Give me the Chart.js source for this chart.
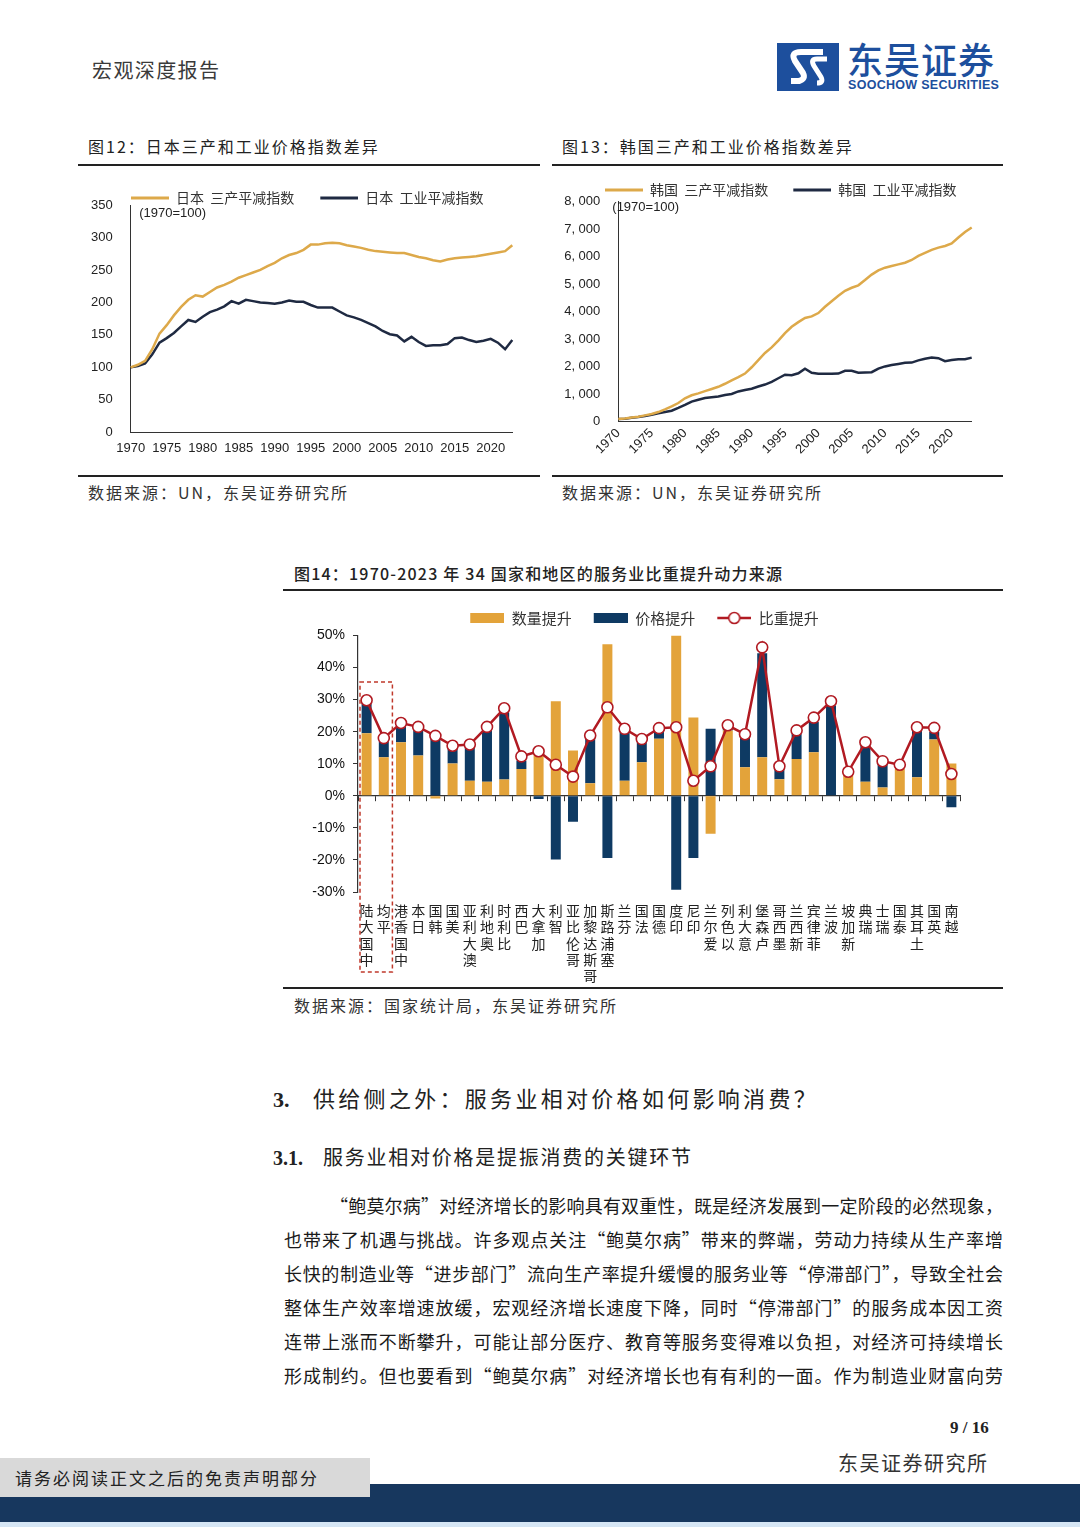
<!DOCTYPE html>
<html><head><meta charset="utf-8">
<script src="https://cdn.jsdelivr.net/npm/chart.js@4.4.1/dist/chart.umd.min.js"></script>
<style>
html,body{margin:0;padding:0;background:#fff;}
body{width:1080px;height:1527px;position:relative;overflow:hidden;font-family:'Noto Sans CJK SC','Noto Sans',sans-serif;color:#222;}
.t{position:absolute;white-space:nowrap;line-height:1;}
.ln{position:absolute;background:#222;}
canvas.c{position:absolute;}
.p{position:absolute;line-height:1;font-size:18px;color:#1a1a1a;text-align:justify;text-align-last:justify;white-space:nowrap;}
</style></head>
<body>
<!-- header -->
<div class="t" style="left:92px;top:60px;font-size:20px;color:#3a3a3a;letter-spacing:1.4px;">宏观深度报告</div>
<svg style="position:absolute;left:777px;top:43px" width="62" height="48" viewBox="0 0 62 48">
  <rect x="0" y="0" width="62" height="48" fill="#1d4f9d"/>
  <path d="M46 9 L24 9 Q13 9 18 18 L26 30 Q29 36 22 38 L14 38" fill="none" stroke="#fff" stroke-width="6" stroke-linejoin="round"/>
  <path d="M50 16 L40 16 Q33 16 37 23 L44 34 Q47 40 40 40" fill="none" stroke="#fff" stroke-width="5" stroke-linejoin="round"/>
</svg>
<div class="t" style="left:847px;top:40px;font-size:36px;color:#1d4f9d;font-weight:500;letter-spacing:1px;">东吴证券</div>
<div class="t" style="left:848px;top:79px;font-size:12.5px;color:#1d4f9d;font-weight:bold;font-family:'Liberation Sans',Arial,sans-serif;letter-spacing:0.3px;">SOOCHOW SECURITIES</div>

<!-- chart 12 / 13 frames -->
<div class="t" style="left:88px;top:138px;font-size:16px;letter-spacing:2px;">图12：日本三产和工业价格指数差异</div>
<div class="ln" style="left:78px;top:164px;width:462px;height:2px;"></div>
<div class="ln" style="left:78px;top:475px;width:462px;height:2px;"></div>
<div class="t" style="left:88px;top:484px;font-size:16px;color:#333;letter-spacing:2px;">数据来源：UN，东吴证券研究所</div>

<div class="t" style="left:562px;top:138px;font-size:16px;letter-spacing:2px;">图13：韩国三产和工业价格指数差异</div>
<div class="ln" style="left:552px;top:164px;width:451px;height:2px;"></div>
<div class="ln" style="left:552px;top:475px;width:451px;height:2px;"></div>
<div class="t" style="left:562px;top:484px;font-size:16px;color:#333;letter-spacing:2px;">数据来源：UN，东吴证券研究所</div>

<canvas id="c12" class="c" width="455" height="290" style="left:80px;top:175px;width:455px;height:290px;"></canvas>
<canvas id="c13" class="c" width="448" height="302" style="left:552px;top:165px;width:448px;height:302px;"></canvas>

<!-- chart 14 frame -->
<div class="t" style="left:294px;top:565px;font-size:16px;letter-spacing:1.2px;font-weight:500;">图14：1970-2023 年 34 国家和地区的服务业比重提升动力来源</div>
<div class="ln" style="left:283px;top:589px;width:720px;height:2px;"></div>
<canvas id="c14" class="c" width="720" height="395" style="left:283px;top:590px;width:720px;height:395px;"></canvas>
<div class="ln" style="left:283px;top:987px;width:720px;height:2px;"></div>
<div class="t" style="left:294px;top:997px;font-size:16px;color:#333;letter-spacing:2px;">数据来源：国家统计局，东吴证券研究所</div>

<!-- text -->
<div class="t" style="left:273px;top:1086px;font-size:22px;"><span style="font-family:'Liberation Serif',serif;font-weight:bold;">3.</span></div>
<div class="t" style="left:313px;top:1086px;font-size:22px;letter-spacing:3.3px;">供给侧之外：服务业相对价格如何影响消费？</div>
<div class="t" style="left:273px;top:1147px;font-size:20px;"><span style="font-family:'Liberation Serif',serif;font-weight:bold;">3.1.</span></div>
<div class="t" style="left:323px;top:1147px;font-size:20px;letter-spacing:1.75px;">服务业相对价格是提振消费的关键环节</div>

<div class="p" style="left:330px;top:1196px;width:673px;">“鲍莫尔病”对经济增长的影响具有双重性，既是经济发展到一定阶段的必然现象，</div>
<div class="p" style="left:284px;top:1230px;width:719px;">也带来了机遇与挑战。许多观点关注“鲍莫尔病”带来的弊端，劳动力持续从生产率增</div>
<div class="p" style="left:284px;top:1264px;width:719px;">长快的制造业等“进步部门”流向生产率提升缓慢的服务业等“停滞部门”，导致全社会</div>
<div class="p" style="left:284px;top:1298px;width:719px;">整体生产效率增速放缓，宏观经济增长速度下降，同时“停滞部门”的服务成本因工资</div>
<div class="p" style="left:284px;top:1332px;width:719px;">连带上涨而不断攀升，可能让部分医疗、教育等服务变得难以负担，对经济可持续增长</div>
<div class="p" style="left:284px;top:1366px;width:719px;">形成制约。但也要看到“鲍莫尔病”对经济增长也有有利的一面。作为制造业财富向劳</div>

<!-- footer -->
<div class="t" style="left:950px;top:1419px;font-size:17px;font-weight:bold;font-family:'Liberation Serif',serif;">9 / 16</div>
<div class="t" style="left:838px;top:1453px;font-size:20px;color:#333;letter-spacing:1.5px;">东吴证券研究所</div>
<div style="position:absolute;left:0;top:1484px;width:1080px;height:38px;background:#17375e;"></div>
<div style="position:absolute;left:0;top:1522px;width:1080px;height:5px;background:#d6e6f5;"></div>
<div style="position:absolute;left:0;top:1458px;width:370px;height:39px;background:#d9d9d9;"></div>
<div class="t" style="left:15px;top:1469px;font-size:17px;color:#222;letter-spacing:2px;">请务必阅读正文之后的免责声明部分</div>

<script>
// ---------------- DATA ----------------
const years = [1970,1971,1972,1973,1974,1975,1976,1977,1978,1979,
  1980,1981,1982,1983,1984,1985,1986,1987,1988,1989,
  1990,1991,1992,1993,1994,1995,1996,1997,1998,1999,
  2000,2001,2002,2003,2004,2005,2006,2007,2008,2009,
  2010,2011,2012,2013,2014,2015,2016,2017,2018,2019,
  2020,2021,2022,2023];

const jpService = [100,104,110,128,152,165,180,193,204,211,
  209,216,223,227,232,238,242,246,250,256,
  261,268,273,276,281,289,289,291,292,291,
  288,286,284,281,279,278,277,276,276,273,
  270,268,265,263,266,268,269,270,271,273,
  275,277,279,288];
const jpIndustry = [100,102,106,120,138,145,153,163,173,170,
  178,185,189,194,202,198,204,202,200,199,
  198,200,203,201,201,196,192,192,192,186,
  180,177,173,168,163,156,151,149,140,147,
  139,133,134,134,136,145,146,142,139,141,
  144,138,128,142];

const krService = [100,120,150,180,230,280,350,450,560,680,
  850,960,1030,1110,1190,1270,1380,1500,1620,1750,
  1980,2240,2500,2700,2950,3220,3450,3620,3770,3830,
  3950,4180,4380,4580,4760,4870,4960,5150,5350,5500,
  5600,5660,5720,5780,5880,6030,6140,6250,6330,6390,
  6480,6700,6900,7060];
const krIndustry = [100,110,140,170,210,250,310,350,400,500,
  610,730,800,860,890,920,970,1010,1100,1150,
  1200,1280,1350,1450,1580,1710,1690,1760,1930,1780,
  1740,1740,1740,1750,1850,1850,1780,1790,1800,1930,
  2010,2060,2100,2140,2150,2230,2290,2330,2310,2200,
  2240,2270,2270,2330];

const regions = ['中国大陆','平均','中国香港','日本','韩国','美国','澳大利亚','奥地利','比利时','巴西',
  '加拿大','智利','哥伦比亚','哥斯达黎加','塞浦路斯','芬兰','法国','德国','印度','印尼',
  '爱尔兰','以色列','意大利','卢森堡','墨西哥','新西兰','菲律宾','波兰','新加坡','瑞典',
  '瑞士','泰国','土耳其','英国','越南'];
const qtyRise = [19.5,12.0,16.7,12.6,-0.8,10.1,4.7,4.4,5.1,8.4,
  13.6,29.5,14.1,3.9,47.3,4.7,10.5,17.8,50.0,24.4,
  -11.8,20.4,8.9,12.0,5.2,11.5,13.6,0,7.3,4.4,
  2.6,8.4,5.8,17.6,10.1];
const priceRise = [9.3,5.0,5.3,8.3,17.8,5.1,10.3,16.3,21.0,2.6,
  -1.0,-19.9,-8.1,14.9,-19.4,15.5,6.8,2.1,-29.3,-19.4,
  20.9,1.2,9.4,32.5,3.7,7.9,9.4,28.2,0,11.3,
  7.3,0,14.6,2.3,-3.6];
const shareRise = [29.8,18.0,22.7,21.5,18.7,15.6,16.0,21.5,27.3,12.3,
  13.9,9.7,6.0,18.8,27.6,20.9,17.7,21.1,21.4,4.7,
  9.2,22.0,19.2,46.3,9.2,20.4,24.4,29.5,7.5,16.7,
  10.8,9.7,21.4,21.2,6.8];

const jpTicks = [0,50,100,150,200,250,300,350];
const krTicks = [0,1000,2000,3000,4000,5000,6000,7000,8000];
const pctTicks = [-30,-20,-10,0,10,20,30,40,50];

// ---------------- STYLE ----------------
const CJK = "'Noto Sans CJK SC','Noto Sans',sans-serif";
const NUM = "'Liberation Sans',Arial,sans-serif";
const GOLD = '#DDA94A';
const DARK = '#1F2A42';
const BAR_Y = '#E3A33A';
const BAR_N = '#0E3A63';
const RED = '#B11A22';

function swatch(kind, color, w, m, h){
  const c = document.createElement('canvas'); c.width = w; c.height = h;
  const g = c.getContext('2d');
  if (kind === 'line'){
    g.strokeStyle = color; g.lineWidth = 3; g.beginPath(); g.moveTo(m, h/2); g.lineTo(w, h/2); g.stroke();
  } else if (kind === 'rect'){
    g.fillStyle = color; g.fillRect(m, h/2 - 5, w - m, 10);
  } else {
    g.strokeStyle = color; g.lineWidth = 2.5; g.beginPath(); g.moveTo(m, h/2); g.lineTo(w, h/2); g.stroke();
    g.beginPath(); g.arc((m + w)/2, h/2, 5.5, 0, Math.PI*2); g.fillStyle = '#fff'; g.fill();
    g.lineWidth = 1.6; g.stroke();
  }
  return c;
}
function labelsWith(sw){
  return function(chart){
    const items = Chart.defaults.plugins.legend.labels.generateLabels(chart);
    items.sort((a,b)=>a.datasetIndex-b.datasetIndex);
    items.forEach(it=>{ it.pointStyle = sw[it.datasetIndex]; });
    return items;
  };
}
const shiftLegend = dx => ({
  id:'shiftLegend',
  afterLayout(chart){ const lg = chart.legend; if (lg){ lg.left += dx; lg.right += dx; } }
});
const baseNote = (dx, dy) => ({
  id:'note',
  afterDraw(chart){
    const a = chart.chartArea, g = chart.ctx;
    g.save(); g.font = '13px ' + NUM; g.fillStyle = '#222'; g.textBaseline = 'middle';
    g.fillText('(1970=100)', a.left + dx, a.top + dy); g.restore();
  }
});

// ---------------- CHART 12 ----------------
const sw12 = [swatch('line', GOLD, 54, 16, 12), swatch('line', DARK, 54, 16, 12)];
new Chart(document.getElementById('c12'), {
  type:'line',
  data:{labels: years, datasets:[
    {label:'日本  三产平减指数', data: jpService, borderColor: GOLD, borderWidth:2.5, pointRadius:0, fill:false},
    {label:'日本  工业平减指数', data: jpIndustry, borderColor: DARK, borderWidth:2.5, pointRadius:0, fill:false}
  ]},
  options:{
    responsive:false, animation:false, devicePixelRatio:1,
    layout:{padding:{left:0, right:22.7, top:6, bottom:0}},
    plugins:{
      legend:{align:'start', maxHeight:24, labels:{usePointStyle:true, pointStyleWidth:54, padding:10,
        font:{family:CJK, size:14}, color:'#333', generateLabels: labelsWith(sw12)}},
      tooltip:{enabled:false}
    },
    scales:{
      x:{grid:{display:false, drawTicks:false}, border:{display:true, color:'#333', width:1},
        ticks:{autoSkip:false, maxRotation:0, minRotation:0, padding:8, color:'#222', font:{family:NUM, size:13},
          callback:(v,i)=> years[i] % 5 === 0 ? String(years[i]) : ''},
        afterFit:s=>{ s.height = 32.7; }},
      y:{min:0, max:350, afterBuildTicks:s=>{ s.ticks = jpTicks.map(v=>({value:v})); },
        grid:{display:false, drawTicks:false}, border:{display:true, color:'#333', width:1},
        ticks:{padding:18, color:'#222', font:{family:NUM, size:13}},
        afterFit:s=>{ s.width = 50.7; }}
    }
  },
  plugins:[baseNote(8.5, 8), shiftLegend(25)]
});

// ---------------- CHART 13 ----------------
const sw13 = [swatch('line', GOLD, 53, 15, 12), swatch('line', DARK, 53, 15, 12)];
new Chart(document.getElementById('c13'), {
  type:'line',
  data:{labels: years, datasets:[
    {label:'韩国  三产平减指数', data: krService, borderColor: GOLD, borderWidth:2.5, pointRadius:0, fill:false},
    {label:'韩国  工业平减指数', data: krIndustry, borderColor: DARK, borderWidth:2.5, pointRadius:0, fill:false}
  ]},
  options:{
    responsive:false, animation:false, devicePixelRatio:1,
    layout:{padding:{left:0, right:28.3, top:8, bottom:0}},
    plugins:{
      legend:{align:'start', maxHeight:28.7, labels:{usePointStyle:true, pointStyleWidth:53, padding:10,
        font:{family:CJK, size:14}, color:'#333', generateLabels: labelsWith(sw13)}},
      tooltip:{enabled:false}
    },
    scales:{
      x:{grid:{display:false, drawTicks:false}, border:{display:true, color:'#333', width:1},
        ticks:{autoSkip:false, maxRotation:45, minRotation:45, padding:4, color:'#222', font:{family:NUM, size:13},
          callback:(v,i)=> years[i] % 5 === 0 ? String(years[i]) : ''},
        afterFit:s=>{ s.height = 45.3; }},
      y:{min:0, max:8000, afterBuildTicks:s=>{ s.ticks = krTicks.map(v=>({value:v})); },
        grid:{display:false, drawTicks:false}, border:{display:true, color:'#333', width:1},
        ticks:{padding:18, color:'#222', font:{family:NUM, size:13},
          callback:v=> v >= 1000 ? Math.floor(v/1000) + ', ' + String(v % 1000).padStart(3,'0') : String(v)},
        afterFit:s=>{ s.width = 66.3; }}
    }
  },
  plugins:[baseNote(-6, 6), shiftLegend(28)]
});

// ---------------- CHART 14 ----------------
const sw14 = [swatch('rect', BAR_Y, 40, 6, 14), swatch('rect', BAR_N, 40, 6, 14), swatch('marker', RED, 40, 6, 14)];
const dashBox = {
  id:'dashBox',
  afterDatasetsDraw(chart){
    const x = chart.scales.x, y = chart.scales.y, g = chart.ctx;
    const half = (x.getPixelForValue(1) - x.getPixelForValue(0)) / 2;
    const l = x.getPixelForValue(0) - half + 2, r = x.getPixelForValue(1) + half;
    const t = y.getPixelForValue(35.5), b = chart.chartArea.bottom + 80;
    g.save(); g.strokeStyle = '#C0392B'; g.lineWidth = 1.5; g.setLineDash([4,3]);
    g.strokeRect(l, t, r - l, b - t); g.restore();
  }
};
new Chart(document.getElementById('c14'), {
  data:{labels: regions, datasets:[
    {type:'bar', label:'数量提升', data: qtyRise, backgroundColor: BAR_Y, stack:'s', order:1, barPercentage:0.58, categoryPercentage:1},
    {type:'bar', label:'价格提升', data: priceRise, backgroundColor: BAR_N, stack:'s', order:1, barPercentage:0.58, categoryPercentage:1},
    {type:'line', label:'比重提升', data: shareRise, borderColor: RED, borderWidth:2.5, stack:'line', order:0,
      pointRadius:5.5, pointBackgroundColor:'#fff', pointBorderColor: RED, pointBorderWidth:1.6, fill:false}
  ]},
  options:{
    responsive:false, animation:false, devicePixelRatio:1,
    layout:{padding:{left:0, right:43, top:4.5, bottom:0}},
    plugins:{
      legend:{align:'center', maxHeight:42.5, labels:{usePointStyle:true, pointStyleWidth:40, padding:16,
        font:{family:CJK, size:15}, color:'#333', generateLabels: labelsWith(sw14)}},
      tooltip:{enabled:false}
    },
    scales:{
      x:{type:'category', position:'bottom', stacked:true, grid:{display:false, drawTicks:false}, border:{display:false},
        ticks:{autoSkip:false, minRotation:0, maxRotation:0, padding:11, color:'#222',
          font:{family:CJK, size:14, lineHeight:1.15},
          callback:(v,i)=> regions[i].split('').reverse()},
        afterFit:s=>{ s.height = 93; }},
      x0:{type:'category', axis:'x', position:{y:0}, offset:true,
        grid:{display:true, drawOnChartArea:false, drawTicks:true, tickLength:5, color:'#333', offset:true},
        border:{display:true, color:'#333', width:1.2}, ticks:{display:false}},
      y:{stacked:true, min:-30, max:50, afterBuildTicks:s=>{ s.ticks = pctTicks.map(v=>({value:v})); },
        grid:{display:true, drawOnChartArea:false, drawTicks:true, tickLength:5, color:'#333'},
        border:{display:true, color:'#333', width:1.2},
        ticks:{padding:8, color:'#111', font:{family:NUM, size:14}, callback:v=> v + '%'},
        afterFit:s=>{ s.width = 75; }}
    }
  },
  plugins:[dashBox, shiftLegend(20)]
});
</script>
</body></html>
